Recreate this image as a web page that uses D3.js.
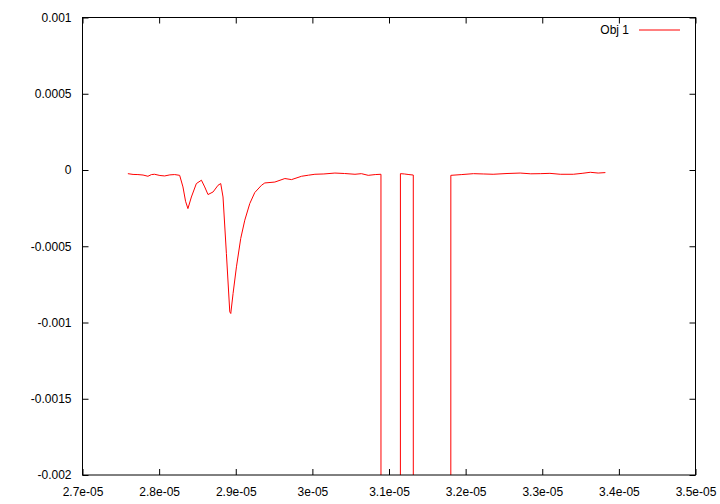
<!DOCTYPE html>
<html>
<head>
<meta charset="utf-8">
<script src="https://cdn.jsdelivr.net/npm/d3@7"></script>
<style>
  html, body { margin: 0; padding: 0; background: #fff; }
  svg { display: block; font-family: "Liberation Sans", Arial, sans-serif; }
</style>
</head>
<body>
<svg id="chart" width="720" height="504"></svg>
<script>
// ---- data ----
const seriesName = "Obj 1";
const xTickValues = [2.7e-5, 2.8e-5, 2.9e-5, 3.0e-5, 3.1e-5, 3.2e-5, 3.3e-5, 3.4e-5, 3.5e-5];
const xTickLabels = ["2.7e-05", "2.8e-05", "2.9e-05", "3e-05", "3.1e-05", "3.2e-05", "3.3e-05", "3.4e-05", "3.5e-05"];
const yTickValues = [0.001, 0.0005, 0, -0.0005, -0.001, -0.0015, -0.002];
const yTickLabels = ["0.001", "0.0005", "0", "-0.0005", "-0.001", "-0.0015", "-0.002"];

// time (s)
const xValues = [
  2.7592e-5, 2.7660e-5, 2.7723e-5, 2.7790e-5, 2.7854e-5, 2.7900e-5, 2.7941e-5, 2.8010e-5, 2.8072e-5, 2.8140e-5,
  2.8203e-5, 2.8268e-5, 2.8311e-5, 2.8345e-5, 2.8376e-5, 2.8421e-5, 2.8486e-5, 2.8552e-5, 2.8595e-5, 2.8638e-5,
  2.8704e-5, 2.8769e-5, 2.8804e-5, 2.8834e-5, 2.8878e-5, 2.8922e-5, 2.8935e-5, 2.8965e-5, 2.9009e-5, 2.9065e-5,
  2.9118e-5, 2.9183e-5, 2.9248e-5, 2.9336e-5, 2.9379e-5, 2.9510e-5, 2.9641e-5, 2.9728e-5, 2.9859e-5, 2.9950e-5,
  3.0033e-5, 3.0150e-5, 3.0294e-5, 3.0420e-5, 3.0556e-5, 3.0640e-5, 3.0729e-5, 3.0820e-5, 3.0895e-5, 3.0896e-5,
  3.1148e-5, 3.1149e-5, 3.1200e-5, 3.1260e-5, 3.1317e-5, 3.1318e-5,
  3.1806e-5, 3.1807e-5, 3.1950e-5, 3.2102e-5, 3.2230e-5, 3.2359e-5, 3.2540e-5, 3.2712e-5, 3.2850e-5, 3.2974e-5,
  3.3100e-5, 3.3235e-5, 3.3405e-5, 3.3520e-5, 3.3627e-5, 3.3730e-5, 3.3824e-5
];
// signal
const yValues = [
  -2.4e-5, -2.9e-5, -3.0e-5, -3.3e-5, -4.1e-5, -3.0e-5, -2.8e-5, -3.6e-5, -3.9e-5, -3.2e-5,
  -3.0e-5, -3.5e-5, -1.11e-4, -2.05e-4, -2.53e-4, -1.77e-4, -8.9e-5, -6.7e-5, -1.11e-4, -1.61e-4,
  -1.44e-4, -1.00e-4, -8.9e-5, -1.77e-4, -5.48e-4, -9.30e-4, -9.41e-4, -8.10e-4, -6.35e-4, -4.49e-4,
  -3.29e-4, -2.20e-4, -1.48e-4, -1.00e-4, -8.5e-5, -7.9e-5, -5.6e-5, -6.3e-5, -4.1e-5, -3.4e-5,
  -2.8e-5, -2.6e-5, -2.0e-5, -2.3e-5, -2.8e-5, -2.4e-5, -3.5e-5, -3.0e-5, -2.8e-5, -0.01,
  -0.01, -2.4e-5, -2.6e-5, -3.0e-5, -3.3e-5, -0.01,
  -0.01, -3.5e-5, -3.0e-5, -2.4e-5, -2.6e-5, -2.8e-5, -2.3e-5, -2.0e-5, -2.5e-5, -2.4e-5,
  -2.2e-5, -2.8e-5, -2.8e-5, -2.2e-5, -1.5e-5, -2.0e-5, -1.7e-5
];

// ---- layout ----
const svg = d3.select("#chart");
const pLeft = 82.5, pRight = 695.5, pTop = 17.5, pBottom = 475;

const x = d3.scaleLinear().domain([2.7e-5, 3.5e-5]).range([pLeft, pRight]);
const y = d3.scaleLinear().domain([-0.002, 0.001]).range([pBottom, pTop]);

const data = xValues.map((v, i) => ({ x: v, y: yValues[i] }));

// clip
svg.append("defs").append("clipPath").attr("id", "clip")
  .append("rect").attr("x", pLeft).attr("y", pTop).attr("width", pRight - pLeft).attr("height", pBottom - pTop);

// data line
svg.append("path")
  .datum(data)
  .attr("clip-path", "url(#clip)")
  .attr("fill", "none")
  .attr("stroke", "#ff0000")
  .attr("stroke-width", 1)
  .attr("d", d3.line().x(d => x(d.x)).y(d => y(d.y)));

// axes (gnuplot style: inward ticks on all four sides)
const tickLen = 6;
const fmtX = (d, i) => xTickLabels[i];
const fmtY = (d, i) => yTickLabels[i];

const axB = svg.append("g").attr("transform", `translate(0,${pBottom})`)
  .call(d3.axisBottom(x).tickValues(xTickValues).tickFormat(fmtX).tickSizeInner(-tickLen).tickSizeOuter(0).tickPadding(12));
const axT = svg.append("g").attr("transform", `translate(0,${pTop})`)
  .call(d3.axisTop(x).tickValues(xTickValues).tickFormat("").tickSizeInner(-tickLen).tickSizeOuter(0));
const axL = svg.append("g").attr("transform", `translate(${pLeft},0)`)
  .call(d3.axisLeft(y).tickValues(yTickValues).tickFormat(fmtY).tickSizeInner(-tickLen).tickSizeOuter(0).tickPadding(11));
const axR = svg.append("g").attr("transform", `translate(${pRight},0)`)
  .call(d3.axisRight(y).tickValues(yTickValues).tickFormat("").tickSizeInner(-tickLen).tickSizeOuter(0));

[axB, axT, axL, axR].forEach(g => {
  g.select(".domain").remove();
  g.selectAll(".tick line").attr("stroke", "#000");
  g.selectAll("text").attr("fill", "#000").style("font-size", "12px").style("font-family", '"Liberation Sans", Arial, sans-serif');
});

// border
svg.append("rect")
  .attr("x", pLeft).attr("y", pTop).attr("width", pRight - pLeft).attr("height", pBottom - pTop)
  .attr("fill", "none").attr("stroke", "#000").attr("stroke-width", 1);

// legend
const lg = svg.append("g");
lg.append("text").attr("x", 629).attr("y", 31).attr("text-anchor", "end").attr("dominant-baseline", "middle")
  .style("font-size", "12px").attr("fill", "#000").text(seriesName);
lg.append("line").attr("x1", 639).attr("x2", 680).attr("y1", 30).attr("y2", 30)
  .attr("stroke", "#ff0000").attr("stroke-width", 1);
</script>
</body>
</html>
